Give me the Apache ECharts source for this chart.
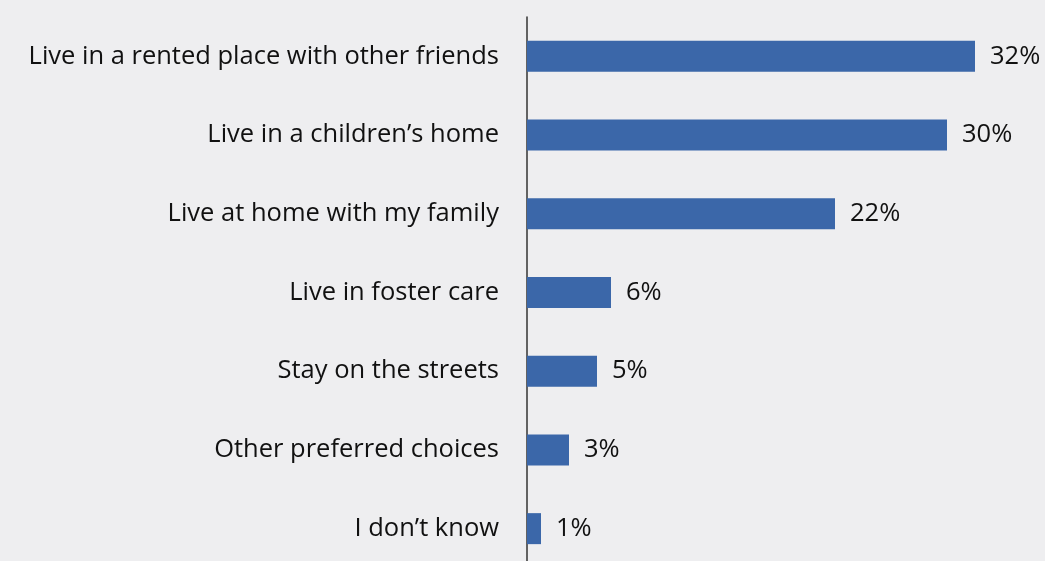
<!DOCTYPE html>
<html>
<head>
<meta charset="utf-8">
<style>
  html, body { margin: 0; padding: 0; background: #eeeef0; overflow: hidden; }
  #chart { width: 1045px; height: 570px; }
</style>
<script src="https://cdn.jsdelivr.net/npm/echarts@6/dist/echarts.min.js"></script>
</head>
<body>
<div id="chart"></div>
<script>
// Preferred living arrangements (share of respondents, %)
const categories = [
  'Live in a rented place with other friends',
  'Live in a children\u2019s home',
  'Live at home with my family',
  'Live in foster care',
  'Stay on the streets',
  'Other preferred choices',
  'I don\u2019t know'
];
const shares = [32, 30, 22, 6, 5, 3, 1];

const FONT = '"Open Sans", Lato, sans-serif';

const chart = echarts.init(document.getElementById('chart'), null, { renderer: 'canvas' });
chart.setOption({
  backgroundColor: '#eeeef0',
  animation: false,
  grid: { left: 527, right: 0, top: 17, bottom: 2 },
  xAxis: {
    type: 'value',
    min: 0,
    max: 37,
    show: false
  },
  yAxis: {
    type: 'category',
    data: categories,
    inverse: true,
    axisLine: { show: true, lineStyle: { color: '#333333', width: 1.5 } },
    axisTick: { show: false },
    splitLine: { show: false },
    axisLabel: {
      margin: 28,
      color: '#111111',
      fontFamily: FONT,
      fontSize: 25.5
    }
  },
  series: [{
    type: 'bar',
    data: shares,
    barWidth: 31,
    itemStyle: { color: '#3b67a9' },
    label: {
      show: true,
      position: 'right',
      distance: 15,
      color: '#111111',
      fontFamily: FONT,
      fontSize: 25.5,
      formatter: p => p.value + '%'
    }
  }]
});
</script>
</body>
</html>
